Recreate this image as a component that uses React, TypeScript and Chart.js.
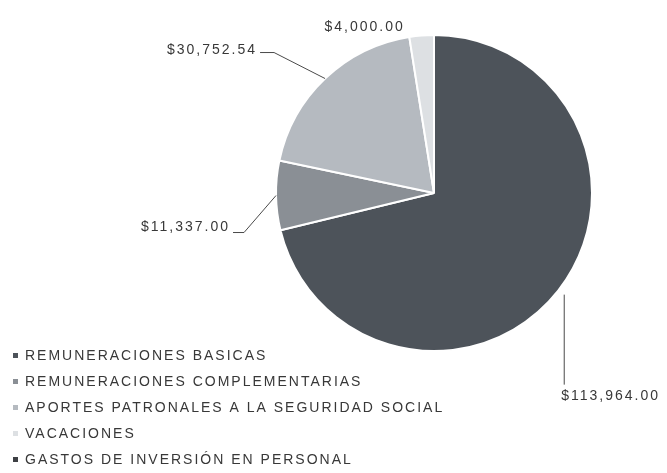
import React, { useEffect, useRef } from 'react';
import { Chart, registerables } from 'chart.js';

Chart.register(...registerables);

const categories = [
  'REMUNERACIONES BASICAS',
  'REMUNERACIONES COMPLEMENTARIAS',
  'APORTES PATRONALES A LA SEGURIDAD SOCIAL',
  'VACACIONES',
  'GASTOS DE INVERSIÓN EN PERSONAL',
];
const values = [113964.0, 11337.0, 30752.54, 4000.0, 0];
const valueLabels = ['$113,964.00', '$11,337.00', '$30,752.54', '$4,000.00', ''];
const colors = ['#4d535a', '#8a8f95', '#b5bac0', '#dde0e3', '#3e4044'];

// label annotation offsets relative to the arc's mid-edge point
const labelLayout = [
  { start: [6, 4], line: [[6, 94]], text: [3, 106], align: 'left' },
  { start: [0, 0], line: [[-32, 37], [-43, 37]], text: [-46, 32], align: 'right' },
  { start: [0, 0], line: [[-51, -26], [-65, -26]], text: [-68, -28], align: 'right' },
  { start: [0, 0], line: [], text: [-57, -8], align: 'center' },
  null,
];

const FONT = '14px "Liberation Sans", Arial, sans-serif';
const TEXT_COLOR = '#383838';

const annotate = {
  id: 'annotate',
  afterDatasetsDraw(chart: any) {
    const ctx = chart.ctx as CanvasRenderingContext2D;
    const meta = chart.getDatasetMeta(0);
    ctx.save();
    ctx.font = FONT;
    (ctx as any).letterSpacing = '2px';
    ctx.fillStyle = TEXT_COLOR;
    ctx.strokeStyle = '#4a4a4a';
    ctx.lineWidth = 1;
    meta.data.forEach((arc: any, i: number) => {
      const lay = labelLayout[i];
      if (!lay || !values[i]) return;
      const mid = (arc.startAngle + arc.endAngle) / 2;
      const px = arc.x + Math.cos(mid) * arc.outerRadius;
      const py = arc.y + Math.sin(mid) * arc.outerRadius;
      if (lay.line.length) {
        ctx.beginPath();
        ctx.moveTo(px + lay.start[0], py + lay.start[1]);
        lay.line.forEach((p: number[]) => ctx.lineTo(px + p[0], py + p[1]));
        ctx.stroke();
      }
      ctx.textAlign = lay.align as CanvasTextAlign;
      ctx.textBaseline = 'middle';
      ctx.fillText(valueLabels[i], px + lay.text[0], py + lay.text[1]);
    });
    // legend
    const lx = 13;
    const ly0 = 356;
    const step = 26;
    categories.forEach((c, i) => {
      const y = ly0 + i * step;
      ctx.fillStyle = colors[i];
      ctx.fillRect(lx, y - 3, 5, 5);
      ctx.fillStyle = TEXT_COLOR;
      ctx.textAlign = 'left';
      ctx.textBaseline = 'middle';
      ctx.fillText(c, lx + 12, y);
    });
    ctx.restore();
  },
};

export default function App() {
  const ref = useRef<HTMLCanvasElement>(null);
  useEffect(() => {
    if (!ref.current) return;
    const chart = new Chart(ref.current, {
      type: 'pie',
      data: {
        labels: categories,
        datasets: [
          {
            data: values,
            backgroundColor: colors,
            borderColor: '#ffffff',
            borderWidth: 2,
          },
        ],
      },
      options: {
        responsive: false,
        animation: false,
        layout: { padding: { left: 275, right: 74, top: 34, bottom: 121 } },
        plugins: {
          legend: { display: false },
          tooltip: { enabled: false },
        },
      },
      plugins: [annotate],
    });
    return () => chart.destroy();
  }, []);
  return (
    <div style={{ position: 'absolute', left: 0, top: 0, width: 667, height: 473, background: '#fff' }}>
      <canvas ref={ref} width={667} height={473} style={{ width: 667, height: 473 }} />
    </div>
  );
}
